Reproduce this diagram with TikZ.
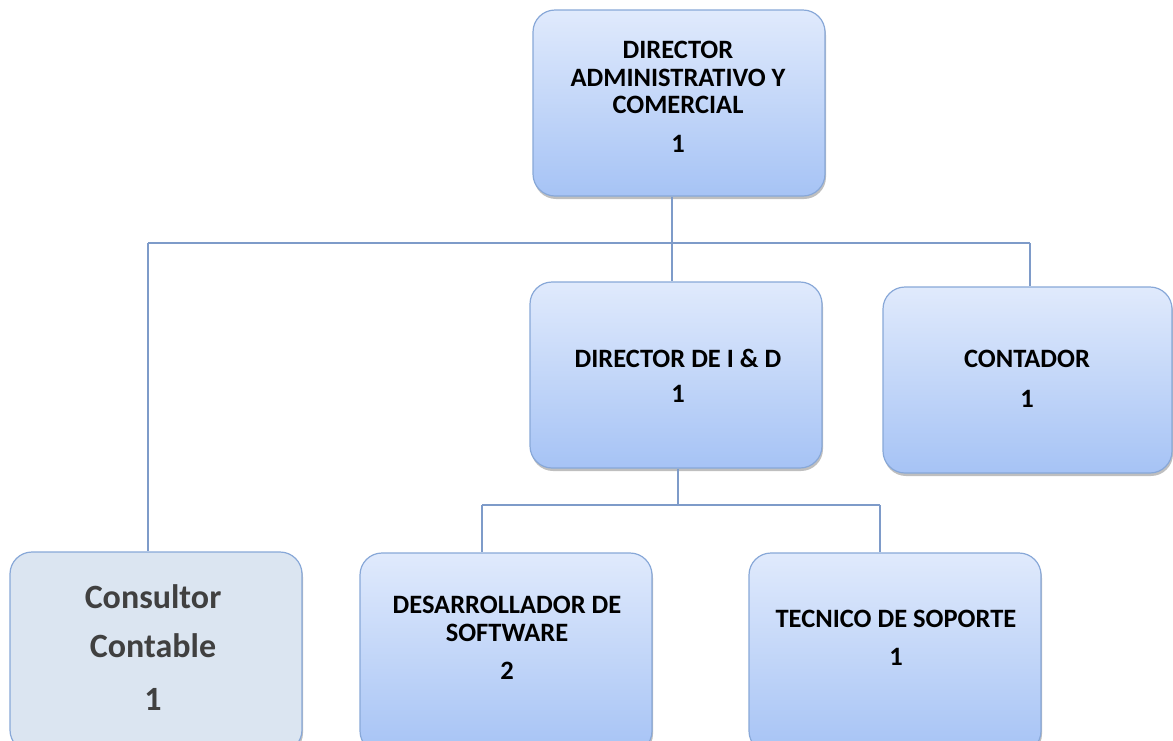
\documentclass[tikz,border=0pt]{standalone}
\usepackage{fontspec}
\setmainfont{Carlito}
\usetikzlibrary{shadows}
\definecolor{boxtop}{HTML}{E0EAFC}
\definecolor{boxbot}{HTML}{A6C3F5}
\definecolor{boxline}{HTML}{88A8D8}
\definecolor{connc}{HTML}{7E9BC9}
\definecolor{consfill}{HTML}{DBE5F1}
\definecolor{constext}{HTML}{404040}
\tikzset{
  orgbox/.style={draw=boxline, line width=1.2pt, rounded corners=22pt,
    top color=boxtop, bottom color=boxbot, minimum width=292pt, minimum height=186pt,
    inner sep=0pt,
    drop shadow={shadow xshift=1pt, shadow yshift=-3pt, opacity=0.25, fill=black}},
  consbox/.style={draw=boxline, line width=1.2pt, rounded corners=22pt,
    fill=consfill, minimum width=292pt, minimum height=200pt, inner sep=0pt,
    drop shadow={shadow xshift=1pt, shadow yshift=-3pt, opacity=0.25, fill=black}},
  lbl/.style={anchor=north, inner sep=0pt, align=center, text=black,
    font=\bfseries\fontsize{26.5}{27.5}\selectfont},
  conslbl/.style={anchor=north, inner sep=0pt, align=center, text=constext,
    font=\bfseries\fontsize{34}{49}\selectfont},
  conn/.style={draw=connc, line width=2pt}
}
\begin{document}
\begin{tikzpicture}[x=1pt,y=-1pt]
\useasboundingbox (0,0) rectangle (1173,740);
\clip (0,0) rectangle (1173,740);
\fill[white] (0,0) rectangle (1173,740);
% connector junctions
\coordinate (busL) at (148,243);
\coordinate (busM) at (672,243);
\coordinate (busR) at (1030,243);
\coordinate (bbL) at (482,505);
\coordinate (bbM) at (678,505);
\coordinate (bbR) at (880,505);
% boxes
\node[orgbox] (top) at (679,103) {};
\node[orgbox] (idd) at (676,375) {};
\node[orgbox, minimum width=289pt] (cont) at (1027.5,380) {};
\node[orgbox, minimum height=200pt] (des) at (506,653) {};
\node[orgbox, minimum height=200pt] (tec) at (895,653) {};
\node[consbox] (cons) at (156,652) {};
% lines
\draw[conn] (top.south -| busM) -- (busM);
\draw[conn] (busL) -- (busR);
\draw[conn] (busL) -- (busL |- cons.north);
\draw[conn] (busM) -- (busM |- idd.north);
\draw[conn] (busR) -- (busR |- cont.north);
\draw[conn] (idd.south -| bbM) -- (bbM);
\draw[conn] (bbL) -- (bbR);
\draw[conn] (bbL) -- (bbL |- des.north);
\draw[conn] (bbR) -- (bbR |- tec.north);
% texts
\node[lbl] (ttop) at (678,41) {DIRECTOR\\ADMINISTRATIVO Y\\COMERCIAL\\[11.5pt]1};
\node[lbl, font=\bfseries\fontsize{26.5}{35}\selectfont] (tidd) at (678,349) {DIRECTOR DE I \& D\\1};
\node[lbl, font=\bfseries\fontsize{26.5}{40}\selectfont] (tcont) at (1027,350) {CONTADOR\\1};
\node[lbl] (tdes) at (507,596) {DESARROLLADOR DE\\SOFTWARE\\[10.5pt]2};
\node[lbl, font=\bfseries\fontsize{26.5}{38}\selectfont] (ttec) at (896,610) {TECNICO DE SOPORTE\\1};
\node[conslbl] (tcons) at (153,584) {Consultor\\Contable\\[4pt]1};
\end{tikzpicture}
\end{document}
